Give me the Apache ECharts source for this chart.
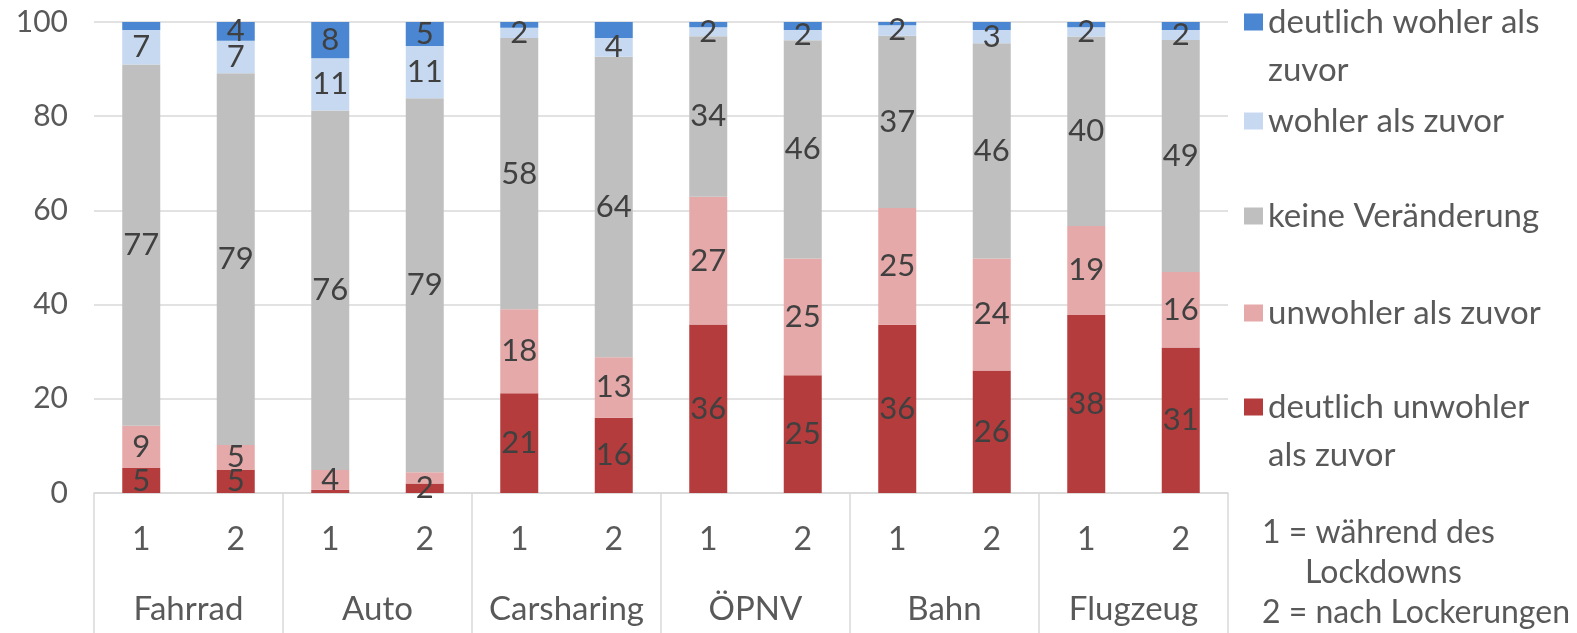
<!DOCTYPE html>
<html><head><meta charset="utf-8">
<script src="https://cdn.jsdelivr.net/npm/echarts@6/dist/echarts.min.js"></script>
<style>html,body{margin:0;padding:0;background:#fff}#c{width:1577px;height:633px}</style>
</head><body><div id="c"></div>
<script>
// ---- data ----
const groups = ['Fahrrad', 'Auto', 'Carsharing', 'ÖPNV', 'Bahn', 'Flugzeug'];
const periods = ['1', '2', '1', '2', '1', '2', '1', '2', '1', '2', '1', '2'];
const yTicks = [0, 20, 40, 60, 80, 100];
const seriesNames = ['deutlich unwohler als zuvor', 'unwohler als zuvor', 'keine Veränderung', 'wohler als zuvor', 'deutlich wohler als zuvor'];
const deutlichUnwohler = [5.3, 4.9, 0.7, 2.0, 21.2, 16.0, 35.8, 25.0, 35.7, 26.0, 37.8, 30.9];
const unwohler         = [9.0, 5.3, 4.2, 2.4, 17.8, 12.8, 27.1, 24.8, 24.8, 23.8, 18.9, 16.0];
const keineVeraend     = [76.7, 78.9, 76.3, 79.4, 57.6, 63.8, 34.1, 46.3, 36.6, 45.7, 40.2, 49.3];
const wohler           = [7.3, 6.9, 11.1, 11.1, 2.2, 4.0, 1.9, 2.2, 2.2, 2.8, 2.0, 2.1];
const deutlichWohler   = [1.7, 4.0, 7.7, 5.1, 1.2, 3.4, 1.1, 1.7, 0.7, 1.7, 1.1, 1.7];
// which data labels are shown in the original (1 = shown)
const showDU = [1, 1, 0, 1, 1, 1, 1, 1, 1, 1, 1, 1];
const showU  = [1, 1, 1, 0, 1, 1, 1, 1, 1, 1, 1, 1];
const showK  = [1, 1, 1, 1, 1, 1, 1, 1, 1, 1, 1, 1];
const showW  = [1, 1, 1, 1, 1, 1, 1, 1, 1, 1, 1, 1];
const showDW = [0, 1, 1, 1, 0, 0, 0, 0, 0, 0, 0, 0];
const noteLines = ['1 = während des', 'Lockdowns', '2 = nach Lockerungen'];

// ---- styling ----
const FONT = 'Lato';
const colors = ['#b43c3c', '#e6a9a9', '#bfbfbf', '#c6d9f0', '#4a86d1'];
const values = [deutlichUnwohler, unwohler, keineVeraend, wohler, deutlichWohler];
const shows = [showDU, showU, showK, showW, showDW];
const AXIS_COLOR = '#d9d9d9';
const TEXT = '#595959';

const chart = echarts.init(document.getElementById('c'));

const series = seriesNames.map((name, si) => ({
  name, type: 'bar', stack: 'total', xAxisIndex: 0,
  barWidth: 38,
  itemStyle: { color: colors[si] },
  label: {
    show: true, position: 'inside', color: '#404040',
    fontFamily: FONT, fontSize: 31,
    formatter: p => Math.round(p.value)
  },
  data: values[si].map((v, i) => shows[si][i] ? v : { value: v, label: { show: false } })
}));

// legend: one per item, top to bottom
const legendCenters = [22, 121, 216, 313, 407];
const legendOrder = [4, 3, 2, 1, 0];
const legendText = {
  'deutlich wohler als zuvor': 'deutlich wohler als\nzuvor',
  'deutlich unwohler als zuvor': 'deutlich unwohler\nals zuvor'
};
const LH = 48, SQ_W = 19, SQ_H = 17;
const legends = legendOrder.map((si, k) => {
  const name = seriesNames[si];
  const twoLine = !!legendText[name];
  const H = twoLine ? LH + SQ_H : SQ_H;
  // square drawn at the top of the icon box so it lines up with the first text line
  const icon = twoLine
    ? 'path://M0,0h' + SQ_W + 'v' + SQ_H + 'h-' + SQ_W + 'z M0,' + (H - 0.05) + 'h0.05v0.05h-0.05z'
    : 'rect';
  return {
    data: [{ name, icon }], orient: 'vertical', left: 1244, padding: 0,
    top: legendCenters[k] - LH / 2,
    itemWidth: SQ_W, itemHeight: H,
    selectedMode: false,
    formatter: n => legendText[n] || n,
    textStyle: { fontFamily: FONT, fontSize: 33, color: TEXT, lineHeight: LH }
  };
});

chart.setOption({
  animation: false,
  textStyle: { fontFamily: FONT },
  grid: { left: 94, right: 349, top: 22, bottom: 140, containLabel: false },
  legend: legends,
  xAxis: [
    {
      type: 'category', data: periods, position: 'bottom',
      axisLine: { lineStyle: { color: AXIS_COLOR, width: 1.5 } },
      axisTick: { show: false },
      axisLabel: { color: TEXT, fontFamily: FONT, fontSize: 32, margin: 31, interval: 0 }
    },
    {
      type: 'category', data: groups, position: 'bottom',
      axisLine: { show: false },
      axisTick: { show: true, length: 145, interval: 0, lineStyle: { color: AXIS_COLOR, width: 1.5 } },
      axisLabel: { color: TEXT, fontFamily: FONT, fontSize: 33, margin: 100, interval: 0 }
    }
  ],
  yAxis: {
    type: 'value', min: yTicks[0], max: yTicks[yTicks.length - 1], interval: yTicks[1] - yTicks[0],
    axisLine: { show: false }, axisTick: { show: false },
    splitLine: { lineStyle: { color: AXIS_COLOR, width: 1.5 } },
    axisLabel: { color: TEXT, fontFamily: FONT, fontSize: 30, margin: 26 }
  },
  graphic: [
    { type: 'text', x: 1262, y: 533, style: { text: noteLines[0], fontFamily: FONT, fontSize: 32, fill: TEXT, verticalAlign: 'middle' } },
    { type: 'text', x: 1305, y: 573, style: { text: noteLines[1], fontFamily: FONT, fontSize: 32, fill: TEXT, verticalAlign: 'middle' } },
    { type: 'text', x: 1262, y: 613, style: { text: noteLines[2], fontFamily: FONT, fontSize: 32, fill: TEXT, verticalAlign: 'middle' } }
  ],
  series
});
</script></body></html>
